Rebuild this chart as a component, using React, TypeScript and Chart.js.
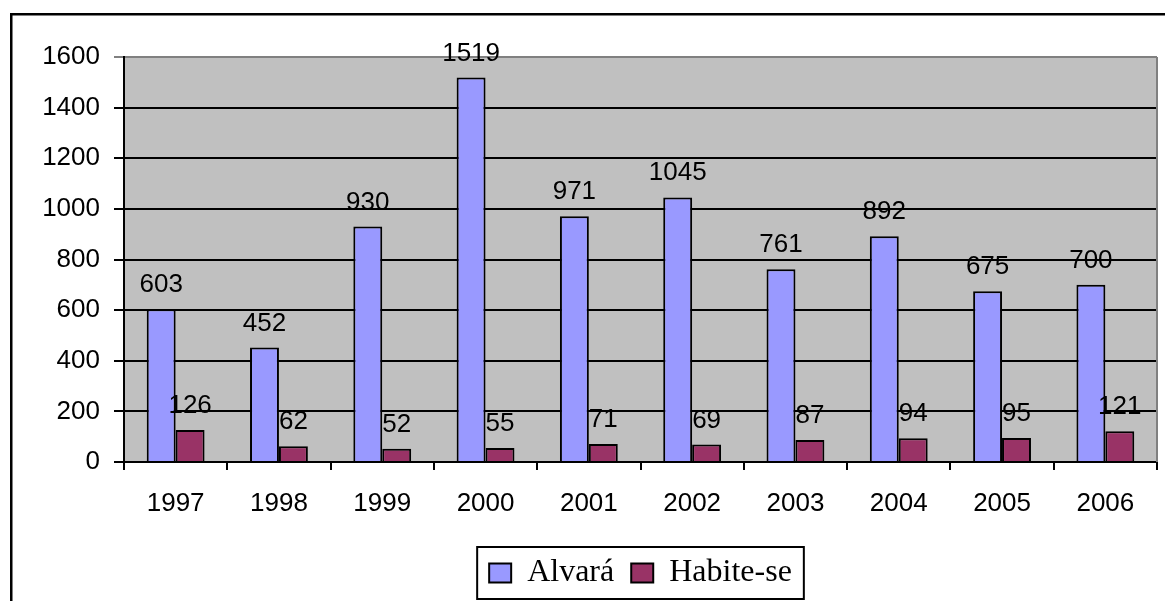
import React, { useEffect, useRef } from "react";
import { Chart, registerables } from "chart.js";

Chart.register(...registerables);

const years = ["1997", "1998", "1999", "2000", "2001", "2002", "2003", "2004", "2005", "2006"];
const alvara = [603, 452, 930, 1519, 971, 1045, 761, 892, 675, 700];
const habite = [126, 62, 52, 55, 71, 69, 87, 94, 95, 121];
const seriesNames = ["Alvará", "Habite-se"];

const sans = "'Liberation Sans', Arial, sans-serif";
const serif = "'Liberation Serif', 'Times New Roman', serif";

const decorPlugin = {
  id: "decor",
  beforeDraw(chart: any) {
    const { ctx, chartArea } = chart;
    ctx.save();
    ctx.fillStyle = "#ffffff";
    ctx.fillRect(0, 0, chart.width, chart.height);
    ctx.strokeStyle = "#000";
    ctx.lineWidth = 2.5;
    ctx.strokeRect(11.25, 14.25, chart.width + 20, chart.height + 20);
    ctx.fillStyle = "#C0C0C0";
    ctx.fillRect(chartArea.left, chartArea.top, chartArea.right - chartArea.left, chartArea.bottom - chartArea.top);
    ctx.restore();
  },
  afterDraw(chart: any) {
    const { ctx, chartArea } = chart;
    ctx.save();
    ctx.strokeStyle = "#808080";
    ctx.lineWidth = 2;
    ctx.beginPath();
    ctx.moveTo(chartArea.right, chartArea.top);
    ctx.lineTo(chartArea.right, chartArea.bottom);
    ctx.stroke();
    const lg = chart.legend;
    if (lg && lg.legendHitBoxes && lg.legendHitBoxes.length) {
      const hb = lg.legendHitBoxes;
      const first = hb[0];
      const last = hb[hb.length - 1];
      const x0 = first.left - 12;
      const x1 = last.left + last.width + 12;
      const y0 = first.top - 10;
      const h = first.height + 20;
      ctx.strokeStyle = "#000";
      ctx.lineWidth = 2;
      ctx.strokeRect(x0, y0, x1 - x0, h);
    }
    ctx.restore();
  },
  afterDatasetsDraw(chart: any) {
    const { ctx } = chart;
    ctx.save();
    ctx.fillStyle = "#000";
    ctx.font = `26px ${sans}`;
    ctx.textAlign = "center";
    ctx.textBaseline = "alphabetic";
    chart.data.datasets.forEach((ds: any, i: number) => {
      const meta = chart.getDatasetMeta(i);
      meta.data.forEach((bar: any, j: number) => {
        ctx.fillText(String(ds.data[j]), bar.x, bar.y - 17);
      });
    });
    ctx.restore();
  },
};

export default function App() {
  const ref = useRef<HTMLCanvasElement>(null);
  useEffect(() => {
    if (!ref.current) return;
    const chart = new Chart(ref.current, {
      type: "bar",
      data: {
        labels: years,
        datasets: [
          {
            label: seriesNames[0],
            data: alvara,
            backgroundColor: "#9999FF",
            borderColor: "#000",
            borderWidth: 2,
            categoryPercentage: 0.56,
            barPercentage: 1,
          },
          {
            label: seriesNames[1],
            data: habite,
            backgroundColor: "#993366",
            borderColor: "#000",
            borderWidth: 2,
            categoryPercentage: 0.56,
            barPercentage: 1,
          },
        ],
      },
      options: {
        animation: false,
        responsive: true,
        maintainAspectRatio: false,
        layout: { padding: { left: 0, right: 8, top: 57, bottom: 2 } },
        plugins: {
          tooltip: { enabled: false },
          legend: {
            position: "bottom",
            fullSize: false,
            labels: {
              font: { family: serif, size: 32 },
              color: "#000",
              boxWidth: 22,
              boxHeight: 19,
              padding: 17,
            },
          },
        },
        scales: {
          x: {
            afterFit: (s: any) => {
              s.height = 78;
            },
            grid: { drawOnChartArea: false, tickLength: 8, color: "#000", lineWidth: 2 },
            border: { color: "#000", width: 2 },
            ticks: { font: { family: sans, size: 26 }, color: "#000", padding: 18, maxRotation: 0 },
          },
          y: {
            min: 0,
            max: 1600,
            afterFit: (s: any) => {
              s.width = 124;
            },
            grid: {
              tickLength: 10,
              lineWidth: 2,
              color: (c: any) => (c.tick && c.tick.value === 1600 ? "#808080" : "#000"),
            },
            border: { color: "#000", width: 2 },
            ticks: {
              stepSize: 200,
              font: { family: sans, size: 26 },
              color: "#000",
              padding: 14,
              callback: (v: any) => String(v),
            },
          },
        },
      },
      plugins: [decorPlugin],
    });
    return () => chart.destroy();
  }, []);
  return (
    <div style={{ position: "absolute", left: 0, top: 0, width: 1165, height: 601 }}>
      <canvas ref={ref} />
    </div>
  );
}
